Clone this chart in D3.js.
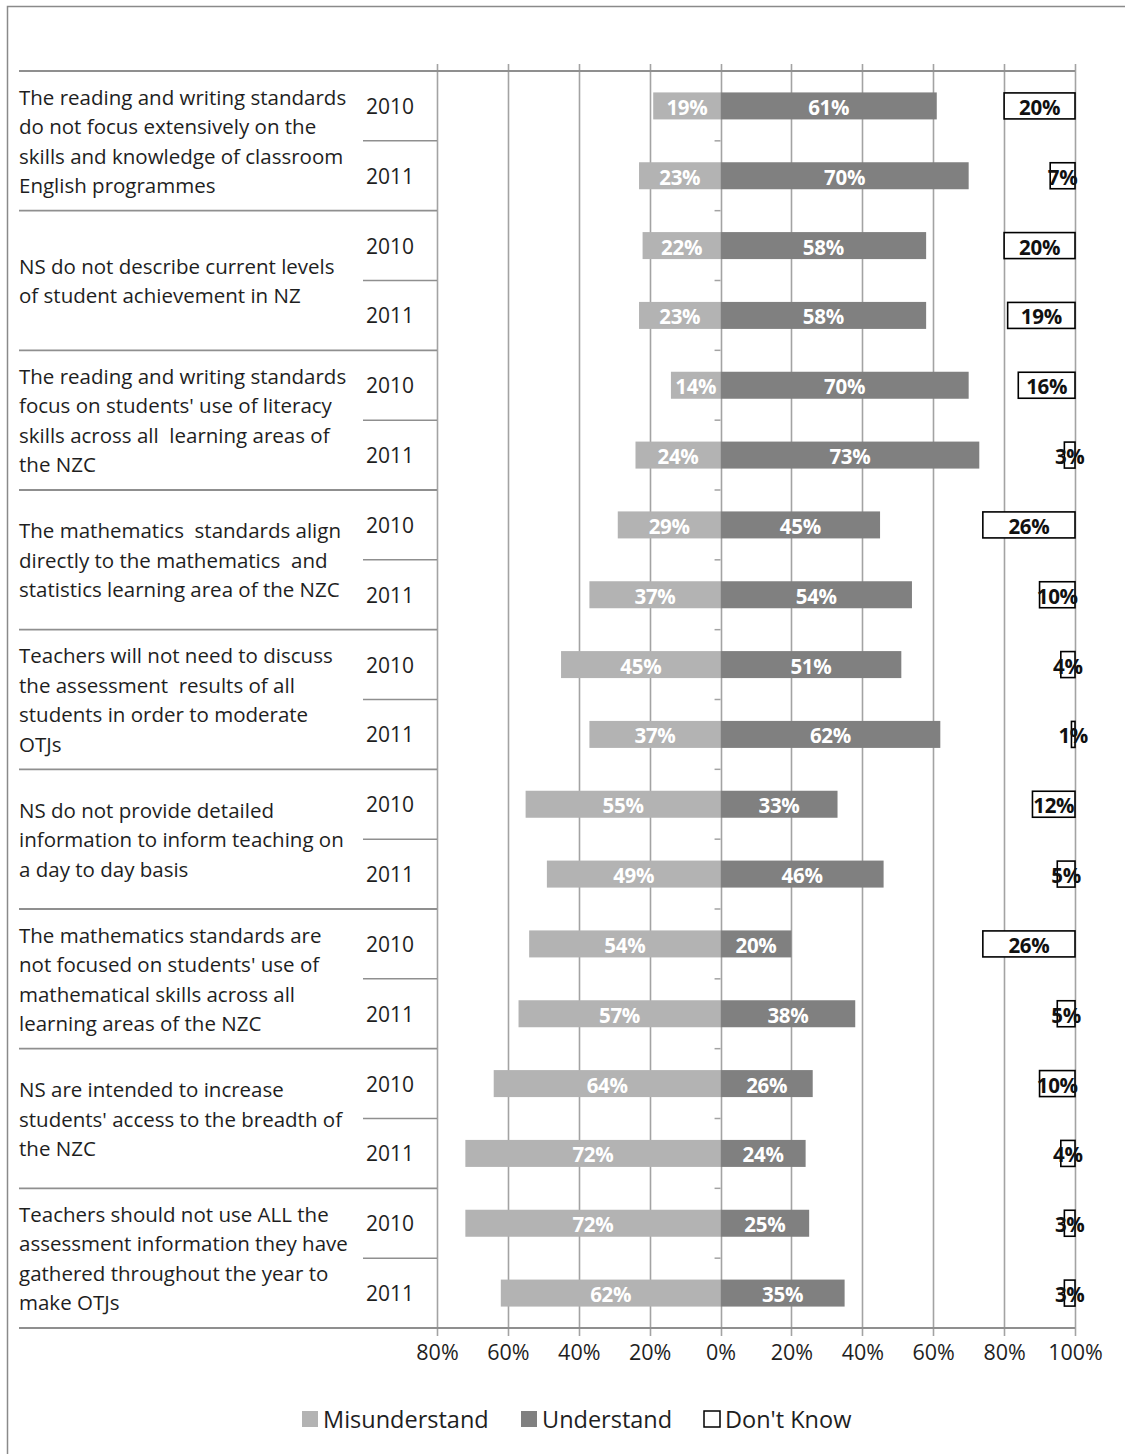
<!DOCTYPE html>
<html>
<head>
<meta charset="utf-8">
<script src="https://cdn.jsdelivr.net/npm/d3@7"></script>
<style>
  html, body { margin: 0; padding: 0; background: #fff; }
  svg { display: block; }
  text { font-family: "Open Sans", Lato, "Noto Sans", sans-serif; }
</style>
</head>
<body>
<svg id="chart" width="1125" height="1454"></svg>
<script>
// Survey statements (wrapped as they appear on the category axis)
const statements = [
  ["The reading and writing standards", "do not focus extensively on the", "skills and knowledge of classroom", "English programmes"],
  ["NS do not describe current levels", "of student achievement in NZ"],
  ["The reading and writing standards", "focus on students' use of literacy", "skills across all  learning areas of", "the NZC"],
  ["The mathematics  standards align", "directly to the mathematics  and", "statistics learning area of the NZC"],
  ["Teachers will not need to discuss", "the assessment  results of all", "students in order to moderate", "OTJs"],
  ["NS do not provide detailed", "information to inform teaching on", "a day to day basis"],
  ["The mathematics standards are", "not focused on students' use of", "mathematical skills across all", "learning areas of the NZC"],
  ["NS are intended to increase", "students' access to the breadth of", "the NZC"],
  ["Teachers should not use ALL the", "assessment information they have", "gathered throughout the year to", "make OTJs"]
];
const years = ["2010", "2011"];

// Percent of respondents per statement, [2010, 2011]
const misunderstand = [[19, 23], [22, 23], [14, 24], [29, 37], [45, 37], [55, 49], [54, 57], [64, 72], [72, 62]];
const understand    = [[61, 70], [58, 58], [70, 73], [45, 54], [51, 62], [33, 46], [20, 38], [26, 24], [25, 35]];
const dontKnow      = [[20, 7], [20, 19], [16, 3], [26, 10], [4, 1], [12, 5], [26, 5], [10, 4], [3, 3]];

const tickValues = [-80, -60, -40, -20, 0, 20, 40, 60, 80, 100];
const legendItems = ["Misunderstand", "Understand", "Don't Know"];

const colors = { mis: "#b3b3b3", und: "#808080", grid: "#a3a3a3", rule: "#8f8f8f", text: "#1e1e1e" };

const svg = d3.select("#chart");

// Outer frame
svg.append("path")
  .attr("d", "M7.5,1454 V6.5 H1125")
  .attr("fill", "none").attr("stroke", "#8a8a8a").attr("stroke-width", 1.5);

// Flatten into one row per statement/year
const rows = [];
statements.forEach((s, g) => {
  years.forEach((yr, k) => {
    rows.push({ id: g + "-" + k, group: g, year: yr, k,
      mis: misunderstand[g][k], und: understand[g][k], dk: dontKnow[g][k] });
  });
});

const x = d3.scaleLinear().domain([-80, 100]).range([437, 1075]);
const y = d3.scaleBand().domain(rows.map(r => r.id)).range([71, 1328]).paddingInner(0).paddingOuter(0);
const bh = 27;
const rowH = y.bandwidth();
const groupH = rowH * 2;
const y0 = 71, y1 = 1328;

// Vertical gridlines with ticks extending above/below the plot
svg.append("g").selectAll("line").data(tickValues).join("line")
  .attr("x1", d => Math.round(x(d)) + 0.5).attr("x2", d => Math.round(x(d)) + 0.5)
  .attr("y1", y0 - 7).attr("y2", y1 + 8)
  .attr("stroke", colors.grid).attr("stroke-width", 1.6);

// Plot top/bottom rules
[y0, y1].forEach(yy => {
  svg.append("line").attr("x1", 19).attr("x2", x(100))
    .attr("y1", yy).attr("y2", yy)
    .attr("stroke", colors.rule).attr("stroke-width", 1.8);
});

// Group separators across the category column
d3.range(1, statements.length).forEach(g => {
  const yy = y0 + g * groupH;
  svg.append("line").attr("x1", 19).attr("x2", x(-80))
    .attr("y1", yy).attr("y2", yy)
    .attr("stroke", colors.rule).attr("stroke-width", 1.8);
});
// Year separators inside each group
statements.forEach((s, g) => {
  const yy = y0 + g * groupH + rowH;
  svg.append("line").attr("x1", 363).attr("x2", x(-80))
    .attr("y1", yy).attr("y2", yy)
    .attr("stroke", colors.rule).attr("stroke-width", 1.5);
});
// Minor ticks on the zero axis at row boundaries
d3.range(1, rows.length).forEach(i => {
  const yy = y0 + i * rowH;
  svg.append("line").attr("x1", x(0) - 6).attr("x2", x(0))
    .attr("y1", yy).attr("y2", yy)
    .attr("stroke", colors.grid).attr("stroke-width", 1.5);
});

// Category labels
const catG = svg.append("g");
statements.forEach((lines, g) => {
  const cy = y0 + (g + 0.5) * groupH;
  const lh = 29.5;
  const start = cy - (lines.length - 1) * lh / 2;
  const t = catG.append("text")
    .attr("x", 19).attr("font-size", 20.5).attr("fill", colors.text)
    .attr("dominant-baseline", "central")
    .style("white-space", "pre");
  lines.forEach((ln, i) => {
    t.append("tspan").attr("x", 19).attr("y", start + i * lh).text(ln);
  });
});

// Year labels
svg.append("g").selectAll("text").data(rows).join("text")
  .attr("x", 366).attr("y", d => y(d.id) + rowH / 2)
  .attr("dominant-baseline", "central")
  .attr("font-size", 21).attr("fill", colors.text)
  .text(d => d.year);

const barG = svg.append("g");
// Misunderstand bars (to the left of zero)
barG.selectAll("rect.mis").data(rows).join("rect").attr("class", "mis")
  .attr("x", d => x(-d.mis)).attr("width", d => x(0) - x(-d.mis))
  .attr("y", d => y(d.id) + rowH / 2 - bh / 2).attr("height", bh)
  .attr("fill", colors.mis);
// Understand bars (to the right of zero)
barG.selectAll("rect.und").data(rows).join("rect").attr("class", "und")
  .attr("x", x(0)).attr("width", d => x(d.und) - x(0))
  .attr("y", d => y(d.id) + rowH / 2 - bh / 2).attr("height", bh)
  .attr("fill", colors.und);
// Don't know boxes, anchored at 100%
barG.selectAll("rect.dk").data(rows).join("rect").attr("class", "dk")
  .attr("x", d => x(100 - d.dk)).attr("width", d => x(100) - x(100 - d.dk))
  .attr("y", d => y(d.id) + rowH / 2 - bh / 2 + 0.5).attr("height", bh - 1)
  .attr("fill", "#fff").attr("stroke", "#000").attr("stroke-width", 1.6);

// Value labels
const lab = svg.append("g").attr("font-size", 20.5).attr("font-weight", "bold")
  .attr("text-anchor", "middle").attr("dominant-baseline", "central")
  .attr("letter-spacing", -0.3);
lab.selectAll("text.mis").data(rows).join("text").attr("class", "mis")
  .attr("x", d => (x(-d.mis) + x(0)) / 2).attr("y", d => y(d.id) + rowH / 2 + 1)
  .attr("fill", "#fff").text(d => d.mis + "%");
lab.selectAll("text.und").data(rows).join("text").attr("class", "und")
  .attr("x", d => (x(d.und) + x(0)) / 2).attr("y", d => y(d.id) + rowH / 2 + 1)
  .attr("fill", "#fff").text(d => d.und + "%");
lab.selectAll("text.dk").data(rows).join("text").attr("class", "dk")
  .attr("x", d => (x(100 - d.dk) + x(100)) / 2).attr("y", d => y(d.id) + rowH / 2 + 1)
  .attr("fill", "#111").text(d => d.dk + "%");

// Percentage axis
const axis = d3.axisBottom(x).tickValues(tickValues).tickSize(0).tickPadding(0)
  .tickFormat(d => Math.abs(d) + "%");
const ax = svg.append("g").attr("transform", "translate(0,1352)").call(axis);
ax.select(".domain").remove();
ax.selectAll("text").attr("font-size", 21.5).attr("fill", colors.text)
  .attr("font-family", "'Open Sans', Lato, sans-serif")
  .attr("dy", "0.35em");

// Legend
const legendX = [302, 521, 704];
const legendFill = [colors.mis, colors.und, "#fff"];
const lg = svg.append("g");
legendItems.forEach((name, i) => {
  lg.append("rect").attr("x", legendX[i]).attr("y", 1411).attr("width", 16).attr("height", 16)
    .attr("fill", legendFill[i])
    .attr("stroke", i === 2 ? "#000" : "none").attr("stroke-width", 1.5);
  lg.append("text").attr("x", legendX[i] + 21).attr("y", 1419)
    .attr("dominant-baseline", "central").attr("font-size", 23.5).attr("fill", colors.text)
    .text(name);
});
</script>
</body>
</html>
